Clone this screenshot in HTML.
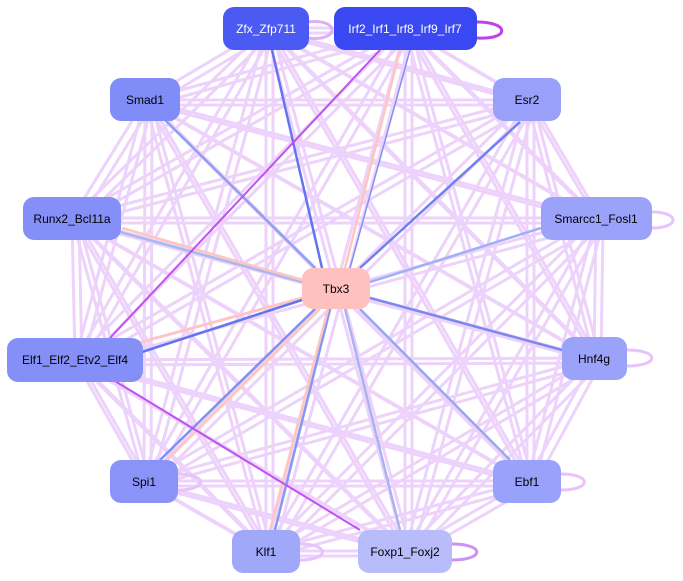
<!DOCTYPE html>
<html><head><meta charset="utf-8"><style>body{margin:0;background:#fff}svg{display:block}</style></head>
<body>
<svg width="683" height="581" viewBox="0 0 683 581" xmlns="http://www.w3.org/2000/svg" font-family="Liberation Sans, sans-serif" font-size="12">
<g fill="none" stroke="#edd2fb" stroke-linecap="round">
<path id="m" stroke-width="3" d="M266,28L405,28 M266,28L145,100 M266,28L527,100 M266,28L72,218 M266,28L596,218 M266,28L75,360 M266,28L594,358 M266,28L144,481 M266,28L527,481 M266,28L266,551 M266,28L405,551
M405,28L145,100 M405,28L527,100 M405,28L72,218 M405,28L596,218 M405,28L75,360 M405,28L594,358 M405,28L144,481 M405,28L527,481 M405,28L266,551 M405,28L405,551
M145,100L527,100 M145,100L72,218 M145,100L596,218 M145,100L75,360 M145,100L594,358 M145,100L144,481 M145,100L527,481 M145,100L266,551 M145,100L405,551
M527,100L72,218 M527,100L596,218 M527,100L75,360 M527,100L594,358 M527,100L144,481 M527,100L527,481 M527,100L266,551 M527,100L405,551
M72,218L596,218 M72,218L75,360 M72,218L594,358 M72,218L144,481 M72,218L527,481 M72,218L266,551 M72,218L405,551
M596,218L75,360 M596,218L594,358 M596,218L144,481 M596,218L527,481 M596,218L266,551 M596,218L405,551
M75,360L594,358 M75,360L144,481 M75,360L527,481 M75,360L266,551 M75,360L405,551
M594,358L144,481 M594,358L527,481 M594,358L266,551 M594,358L405,551
M144,481L527,481 M144,481L266,551 M144,481L405,551
M527,481L266,551 M527,481L405,551
M266,551L405,551"/>
<use href="#m" transform="translate(7,5)" stroke-width="1.8"/>
</g>
<g fill="none" stroke-width="2.5">
<line x1="272" y1="50" x2="322" y2="268" stroke="#6474f0"/>
<line x1="400" y1="50" x2="345" y2="268" stroke="#ffc6c0"/>
<line x1="410" y1="50" x2="350" y2="268" stroke="#8090f0" stroke-width="1.5"/>
<line x1="165" y1="120" x2="315" y2="268" stroke="#90a0f0"/>
<line x1="520" y1="122" x2="360" y2="268" stroke="#7080f0"/>
<line x1="120" y1="232" x2="302" y2="282" stroke="#a8b8f0"/>
<line x1="302" y1="280" x2="122" y2="228" stroke="#ffc6c0"/>
<line x1="541" y1="228" x2="370" y2="282" stroke="#a0b0f8"/>
<line x1="142" y1="342" x2="302" y2="298" stroke="#ffc6c0"/>
<line x1="142" y1="352" x2="302" y2="300" stroke="#6474f0"/>
<line x1="562" y1="350" x2="370" y2="298" stroke="#7c88f0"/>
<line x1="160" y1="460" x2="315" y2="309" stroke="#8090f0"/>
<line x1="165" y1="462" x2="320" y2="309" stroke="#ffc6c0"/>
<line x1="510" y1="460" x2="360" y2="309" stroke="#98a8f0"/>
<line x1="275" y1="530" x2="330" y2="309" stroke="#8898f0"/>
<line x1="270" y1="530" x2="328" y2="309" stroke="#ffc6c0"/>
<line x1="400" y1="530" x2="345" y2="309" stroke="#a8b4f0"/>
<line x1="380" y1="50" x2="110" y2="338" stroke="#c050f0" stroke-width="2"/>
<line x1="110" y1="378" x2="360" y2="530" stroke="#c050f0" stroke-width="2"/>
<path d="M477,22 C510,22 510,40 477,38" stroke="#c040f0" stroke-width="3"/>
<path d="M308,22 C340,18 340,42 308,38" stroke="#deb0f6" stroke-width="3"/>
<path d="M652,212 C680,212 680,228 652,228" stroke="#e6c4fa" stroke-width="3"/>
<path d="M627,350 C660,350 660,366 627,366" stroke="#e6c4fa" stroke-width="3"/>
<path d="M561,474 C592,474 592,490 561,490" stroke="#e6c4fa" stroke-width="3"/>
<path d="M178,474 C208,474 208,490 178,490" stroke="#e6c4fa" stroke-width="3"/>
<path d="M300,544 C330,544 330,560 300,560" stroke="#e6c4fa" stroke-width="3"/>
<path d="M452,544 C485,544 485,560 452,560" stroke="#d090f0" stroke-width="3"/>
</g>
<g>
<rect x="223" y="7" width="86" height="43" rx="11" fill="#4a5af2"/>
<text x="266" y="33" fill="#fff" text-anchor="middle">Zfx_Zfp711</text>
<rect x="334" y="7" width="143" height="43" rx="11" fill="#3a48f2"/>
<text x="405" y="33" fill="#fff" text-anchor="middle">Irf2_Irf1_Irf8_Irf9_Irf7</text>
<rect x="110" y="78" width="70" height="43" rx="11" fill="#808cf8"/>
<text x="145" y="104" text-anchor="middle">Smad1</text>
<rect x="493" y="78" width="68" height="43" rx="11" fill="#98a0fa"/>
<text x="527" y="104" text-anchor="middle">Esr2</text>
<rect x="23" y="197" width="98" height="43" rx="11" fill="#8490f8"/>
<text x="72" y="223" text-anchor="middle">Runx2_Bcl11a</text>
<rect x="541" y="197" width="111" height="43" rx="11" fill="#9aa2fa"/>
<text x="596" y="223" text-anchor="middle">Smarcc1_Fosl1</text>
<rect x="302" y="268" width="68" height="41" rx="11" fill="#ffc0c0"/>
<text x="336" y="293" text-anchor="middle">Tbx3</text>
<rect x="7" y="338" width="136" height="44" rx="11" fill="#8490f8"/>
<text x="75" y="364" text-anchor="middle">Elf1_Elf2_Etv2_Elf4</text>
<rect x="562" y="337" width="65" height="43" rx="11" fill="#9aa2fa"/>
<text x="594" y="363" text-anchor="middle">Hnf4g</text>
<rect x="110" y="460" width="68" height="43" rx="11" fill="#8a94f8"/>
<text x="144" y="486" text-anchor="middle">Spi1</text>
<rect x="493" y="460" width="68" height="43" rx="11" fill="#98a2fa"/>
<text x="527" y="486" text-anchor="middle">Ebf1</text>
<rect x="232" y="530" width="68" height="43" rx="11" fill="#a0a8fa"/>
<text x="266" y="556" text-anchor="middle">Klf1</text>
<rect x="358" y="530" width="94" height="43" rx="11" fill="#b8bcfa"/>
<text x="405" y="556" text-anchor="middle">Foxp1_Foxj2</text>
</g>
</svg>
</body></html>
